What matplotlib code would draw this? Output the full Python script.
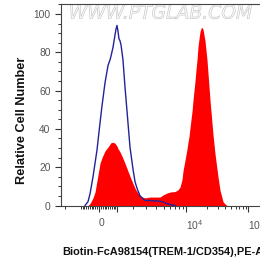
"""Flow cytometry overlay histogram: Biotin-FcA98154 (TREM-1/CD354) PE-A on a logicle axis."""

import numpy as np
import matplotlib

matplotlib.use("Agg")
import matplotlib.pyplot as plt
import matplotlib.patheffects as pe
from matplotlib.ticker import FixedLocator, FixedFormatter, MultipleLocator

plt.rcParams["font.family"] = ["Liberation Sans", "DejaVu Sans"]
plt.rcParams["mathtext.default"] = "regular"

# isotype / unstained control (blue outline)
control_x = [-768, -601, -491, -326, -217, -108, 54, 163, 326, 491, 601, 657,
             768, 881, 938, 996, 1053, 1112, 1170, 1229, 1289, 1349, 1471, 1596,
             1790, 1992, 2132, 2276, 2504, 2914, 3375, 3898, 4500, 4908, 5514, 6026, 7004]
control_n = [0, 2, 6, 15, 22, 29, 43, 52, 64, 73, 76, 78,
             82.5, 89, 92, 94, 91, 87, 86, 84, 80, 76, 62, 49.5,
             30.5, 19, 12.5, 9, 5, 2.6, 2.6, 2.4, 2.2, 1.8, 1.0, 0.5, 0]

# stained sample (red filled)
sample_x = [-601, -491, -326, -217, -108, 54, 163, 326, 491, 657, 768, 881, 996,
            1053, 1170, 1289, 1471, 1596, 1790, 1924, 2132, 2276, 2504, 2663, 2914,
            3375, 3898, 4500, 4908, 5514, 6026, 7004, 7679, 8172, 8703, 8983, 9576,
            10216, 10554, 10907, 11655, 12050, 12462, 13335, 13798, 14279, 14779,
            15300, 15842, 16406, 16993, 17605, 18903, 20311, 21058, 22650, 24372,
            25288, 27236, 29350, 30477, 32869, 35466, 36849, 39793, 42989]
sample_n = [0, 1, 4, 7, 13, 22, 25, 28.5, 30.5, 32.8, 33, 32.5, 31,
            29.7, 28, 25.8, 22, 19.3, 15.2, 12.7, 9, 7.2, 5.3, 4.4, 4,
            4.4, 4.4, 4.4, 5.5, 6.5, 7, 7.3, 8.2, 9.6, 13.5, 18, 23.6,
            29.5, 33, 36, 45, 49, 55, 65, 71, 76, 83,
            87, 90.7, 92.5, 93, 92, 86, 76, 69, 55, 43,
            37, 27, 19, 15, 8, 4, 2, 0.8, 0]

x_major = [0, 1e3, 1e4, 1e5]
x_major_labels = ["0", "", "$10^4$", "$10^5$"]
x_label = "Biotin-FcA98154(TREM-1/CD354),PE-A"
y_label = "Relative Cell Number"

# logicle parameters (FlowJo style)
T, W, M = 262144.0, 1.35, 4.5


def logicle_params():
    """Coefficients of the biexponential x = a e^{by} - c e^{-dy} + f."""
    w = W / M
    b = M * np.log(10)
    lo, hi = 1e-9, b
    for _ in range(200):
        d = 0.5 * (lo + hi)
        if 2 * np.log(d / b) + w * (b + d) > 0:
            hi = d
        else:
            lo = d
    x1, x0 = w, 2 * w
    ca = np.exp(x0 * (b + d))
    mfa = np.exp(b * x1) - ca / np.exp(d * x1)
    a = T / ((np.exp(b) - mfa) - ca / np.exp(d))
    return a, b, ca * a, d, -mfa * a, x1


A, B, C, D, F, X1 = logicle_params()


def logicle_inverse(y):
    y = np.asarray(y, dtype=float)
    r = np.where(y >= X1, y, 2 * X1 - y)
    v = A * np.exp(B * r) - C * np.exp(-D * r) + F
    return np.where(y >= X1, v, -v)


_grid = np.linspace(-0.6, 1.6, 40001)
_vals = logicle_inverse(_grid)


def logicle(x):
    return np.interp(np.asarray(x, dtype=float), _vals, _grid)


fig = plt.figure(figsize=(2.6, 2.6), dpi=100)
ax = fig.add_axes([61 / 260, 54.5 / 260, 199 / 260, 201.5 / 260])
ax.set_xscale("function", functions=(logicle, logicle_inverse))

ax.fill_between(sample_x, sample_n, 0, color="#ff0000", linewidth=0, zorder=2)
ax.plot(control_x, control_n, color="#22229a", linewidth=1.0, zorder=3)

px_per_unit = 247
ax.set_xlim(logicle_inverse(X1 - 38 / px_per_unit), logicle_inverse(X1 + 161 / px_per_unit))
ax.set_ylim(0, 105.2)

minor = list(-np.arange(100, 1000, 100)) + [-1000, -2000] + list(np.arange(100, 1000, 100)) \
    + list(np.arange(2000, 10000, 1000)) + list(np.arange(20000, 100000, 10000)) + [2e5]
ax.xaxis.set_major_locator(FixedLocator(x_major))
ax.xaxis.set_major_formatter(FixedFormatter(x_major_labels))
ax.xaxis.set_minor_locator(FixedLocator(minor))
ax.yaxis.set_major_locator(MultipleLocator(20))
ax.yaxis.set_minor_locator(MultipleLocator(5))

ax.tick_params(which="major", length=4, width=0.8, color="#333333",
               labelsize=7.4, labelcolor="#555555")
ax.tick_params(which="minor", length=2.3, width=0.7, color="#333333")
ax.tick_params(axis="y", pad=3.5)
ax.tick_params(axis="x", pad=5)
for lab in ax.get_xticklabels():
    lab.set_horizontalalignment("left")

for side in ("left", "bottom", "top"):
    ax.spines[side].set_color("#444444")
    ax.spines[side].set_linewidth(0.8)
ax.spines["right"].set_visible(False)

ax.set_ylabel(y_label, fontsize=9.2, fontweight="bold", color="#111111")
ax.yaxis.set_label_coords(-0.165, 0.424)
ax.set_xlabel(x_label, fontsize=7.9, fontweight="bold", color="#111111", ha="left")
ax.xaxis.set_label_coords(0.005, -0.205)

ax.text(0.5, 0.955, "WWW.PTGLAB.COM", transform=ax.transAxes, ha="center", va="center",
        fontsize=13.5, family="DejaVu Sans", style="oblique", color="none",
        path_effects=[pe.Stroke(linewidth=0.5, foreground="#c8c8c8")], zorder=1)

fig.savefig("out.png", dpi=100)
